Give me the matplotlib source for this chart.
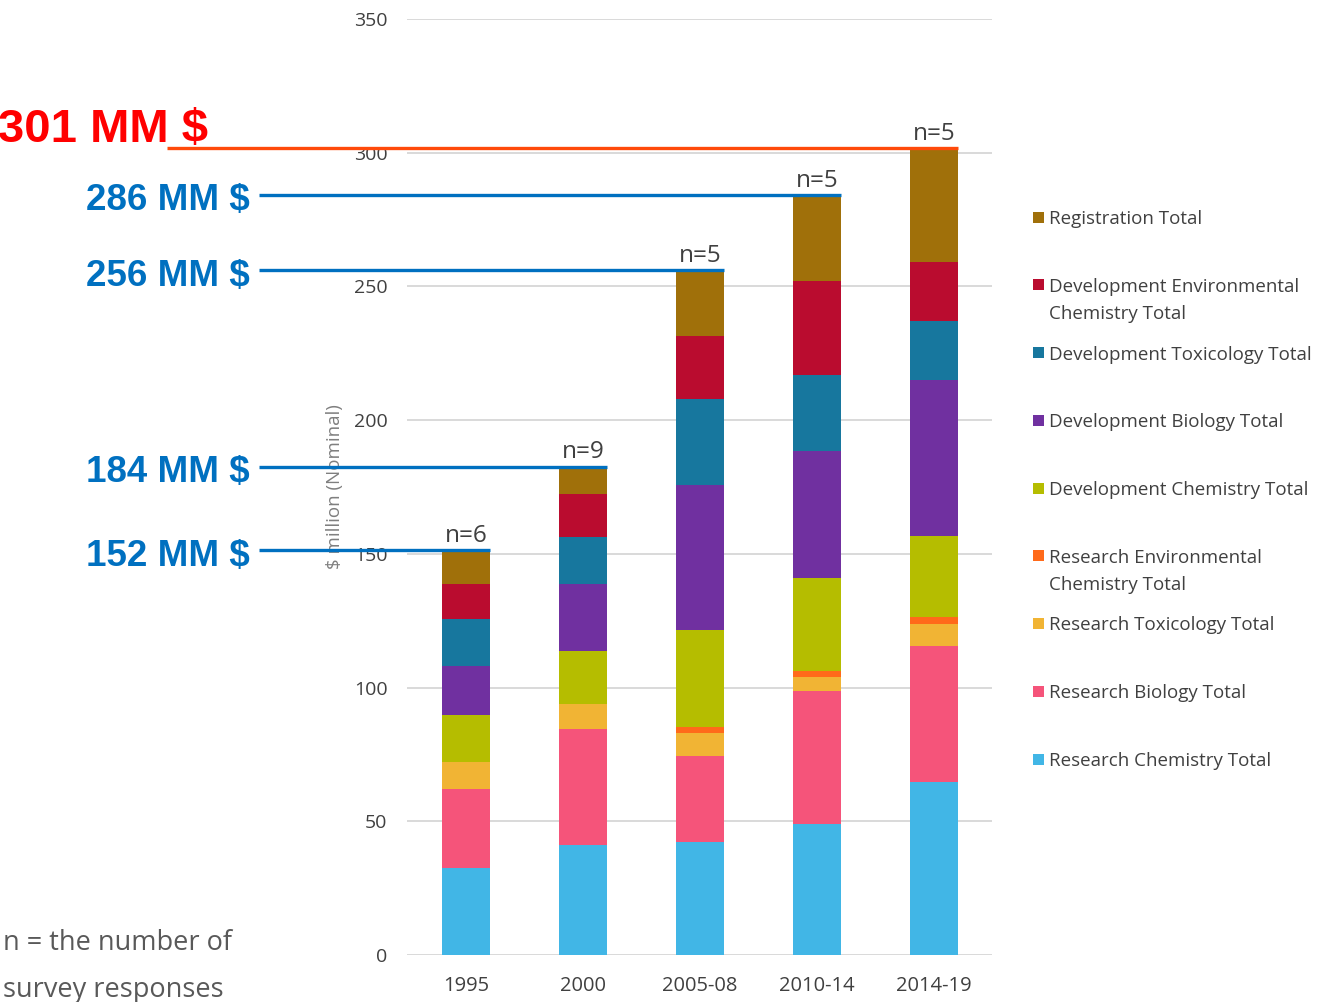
import matplotlib
matplotlib.use("Agg")
import matplotlib.pyplot as plt
import matplotlib.transforms as mtransforms
from matplotlib.patches import Rectangle
import numpy as np

# periods on the x axis
periods = ["1995", "2000", "2005-08", "2010-14", "2014-19"]
responses = ["n=6", "n=9", "n=5", "n=5", "n=5"]

# stacked segments, bottom to top ($ million, nominal)
research_chemistry = [32.4, 41.2, 42.3, 49.0, 64.7]
research_biology = [29.8, 43.4, 32.1, 49.9, 50.9]
research_toxicology = [9.8, 9.1, 8.6, 5.2, 8.3]
research_env_chem = [0.0, 0.0, 2.3, 2.1, 2.5]
dev_chemistry = [17.7, 20.1, 36.3, 34.8, 30.2]
dev_biology = [18.2, 24.8, 54.1, 47.5, 58.4]
dev_toxicology = [17.6, 17.7, 32.1, 28.4, 22.0]
dev_env_chem = [13.1, 16.0, 23.6, 35.1, 22.2]
registration = [12.7, 10.3, 24.6, 32.2, 42.6]

series_names = ["Research Chemistry Total", "Research Biology Total",
                "Research Toxicology Total", "Research Environmental\nChemistry Total",
                "Development Chemistry Total", "Development Biology Total",
                "Development Toxicology Total", "Development Environmental\nChemistry Total",
                "Registration Total"]
series_values = [research_chemistry, research_biology, research_toxicology,
                 research_env_chem, dev_chemistry, dev_biology, dev_toxicology,
                 dev_env_chem, registration]
colors = ["#41B6E6", "#F5547A", "#F1B434", "#FF6A1A", "#B5BD00",
          "#7030A0", "#17779E", "#BA0C2F", "#A0700A"]

# callouts: text shown on the left for each bar total
callout_labels = ["152 MM $", "184 MM $", "256 MM $", "286 MM $", "301 MM $"]

W, H = 1319, 1002
fig = plt.figure(figsize=(W / 100, H / 100), dpi=100)
ax = fig.add_axes([407 / W, 1 - 955 / H, 585 / W, (955 - 19) / H])

x = np.arange(len(periods))
width = 0.41
bottom = np.zeros(len(periods))
for vals, col, name in zip(series_values, colors, series_names):
    ax.bar(x, vals, width, bottom=bottom, color=col, label=name, zorder=3)
    bottom += np.array(vals)
totals = bottom

ax.set_ylim(0, 350)
ax.set_xlim(-0.504, len(periods) - 0.504)
ax.set_yticks(np.arange(0, 351, 50))
ax.set_xticks(x)
ax.set_xticklabels(periods)
ax.grid(axis="y", color="#d9d9d9", linewidth=1.4, zorder=0)
ax.set_axisbelow(True)
for s in ax.spines.values():
    s.set_visible(False)
ax.tick_params(axis="y", length=0, labelsize=14, labelcolor="#404040", pad=14)
ax.tick_params(axis="x", length=0, labelsize=14.5, labelcolor="#404040", pad=15)
for lab in ax.get_xticklabels() + ax.get_yticklabels():
    lab.set_fontfamily("Open Sans")
ax.set_ylabel("$ million (Nominal)", fontsize=13.5, color="#7f7f7f",
              fontfamily="Open Sans", labelpad=7)

# n labels above the bars
for xi, t, r in zip(x, totals, responses):
    ax.annotate(r, (xi, t), xytext=(0, 6), textcoords="offset points",
                ha="center", va="baseline", fontsize=17.5, color="#404040",
                fontfamily="Open Sans")


def px_to_x(px):
    return -0.504 + (px - 407) / 117.0


# callout lines and labels
trans = mtransforms.blended_transform_factory(fig.transFigure, ax.transData)
for i, (t, lab) in enumerate(zip(totals, callout_labels)):
    if i == len(totals) - 1:
        ax.plot([px_to_x(167), x[i] + width / 2], [t, t], color="#FF4A0A",
                linewidth=2.4, clip_on=False, zorder=6, solid_capstyle="butt")
        ax.annotate(lab, (-2 / W, t), xycoords=trans, xytext=(0, 4.5),
                    textcoords="offset points", ha="left", va="baseline",
                    fontsize=34, fontweight="bold", color="#FF0000",
                    fontfamily="Liberation Sans", annotation_clip=False)
    else:
        ax.plot([px_to_x(259), x[i] + width / 2], [t, t], color="#0070C0",
                linewidth=2.4, clip_on=False, zorder=6, solid_capstyle="butt")
        ax.annotate(lab, (250 / W, t), xycoords=trans, xytext=(0, -11),
                    textcoords="offset points", ha="right", va="baseline",
                    fontsize=26.5, fontweight="bold", color="#0070C0",
                    fontfamily="Liberation Sans", annotation_clip=False)

# legend on the right, top entry is the top segment
for k, (name, col) in enumerate(zip(series_names[::-1], colors[::-1])):
    yc = 217 + 67.75 * k
    fig.add_artist(Rectangle((1033 / W, 1 - (yc + 5.5) / H), 11 / W, 11 / H,
                             transform=fig.transFigure, color=col, lw=0))
    for j, line in enumerate(name.split("\n")):
        fig.text(1049 / W, 1 - (yc + 27 * j) / H, line, ha="left",
                 va="center_baseline", fontsize=13.5, color="#404040",
                 fontfamily="Open Sans")

fig.text(3 / W, 1 - 940 / H, "n = the number of", ha="left",
         va="center_baseline", fontsize=19.5, color="#595959", fontfamily="Open Sans")
fig.text(3 / W, 1 - 986 / H, "survey responses", ha="left",
         va="center_baseline", fontsize=19.5, color="#595959", fontfamily="Open Sans")

fig.savefig("out.png", dpi=100)
